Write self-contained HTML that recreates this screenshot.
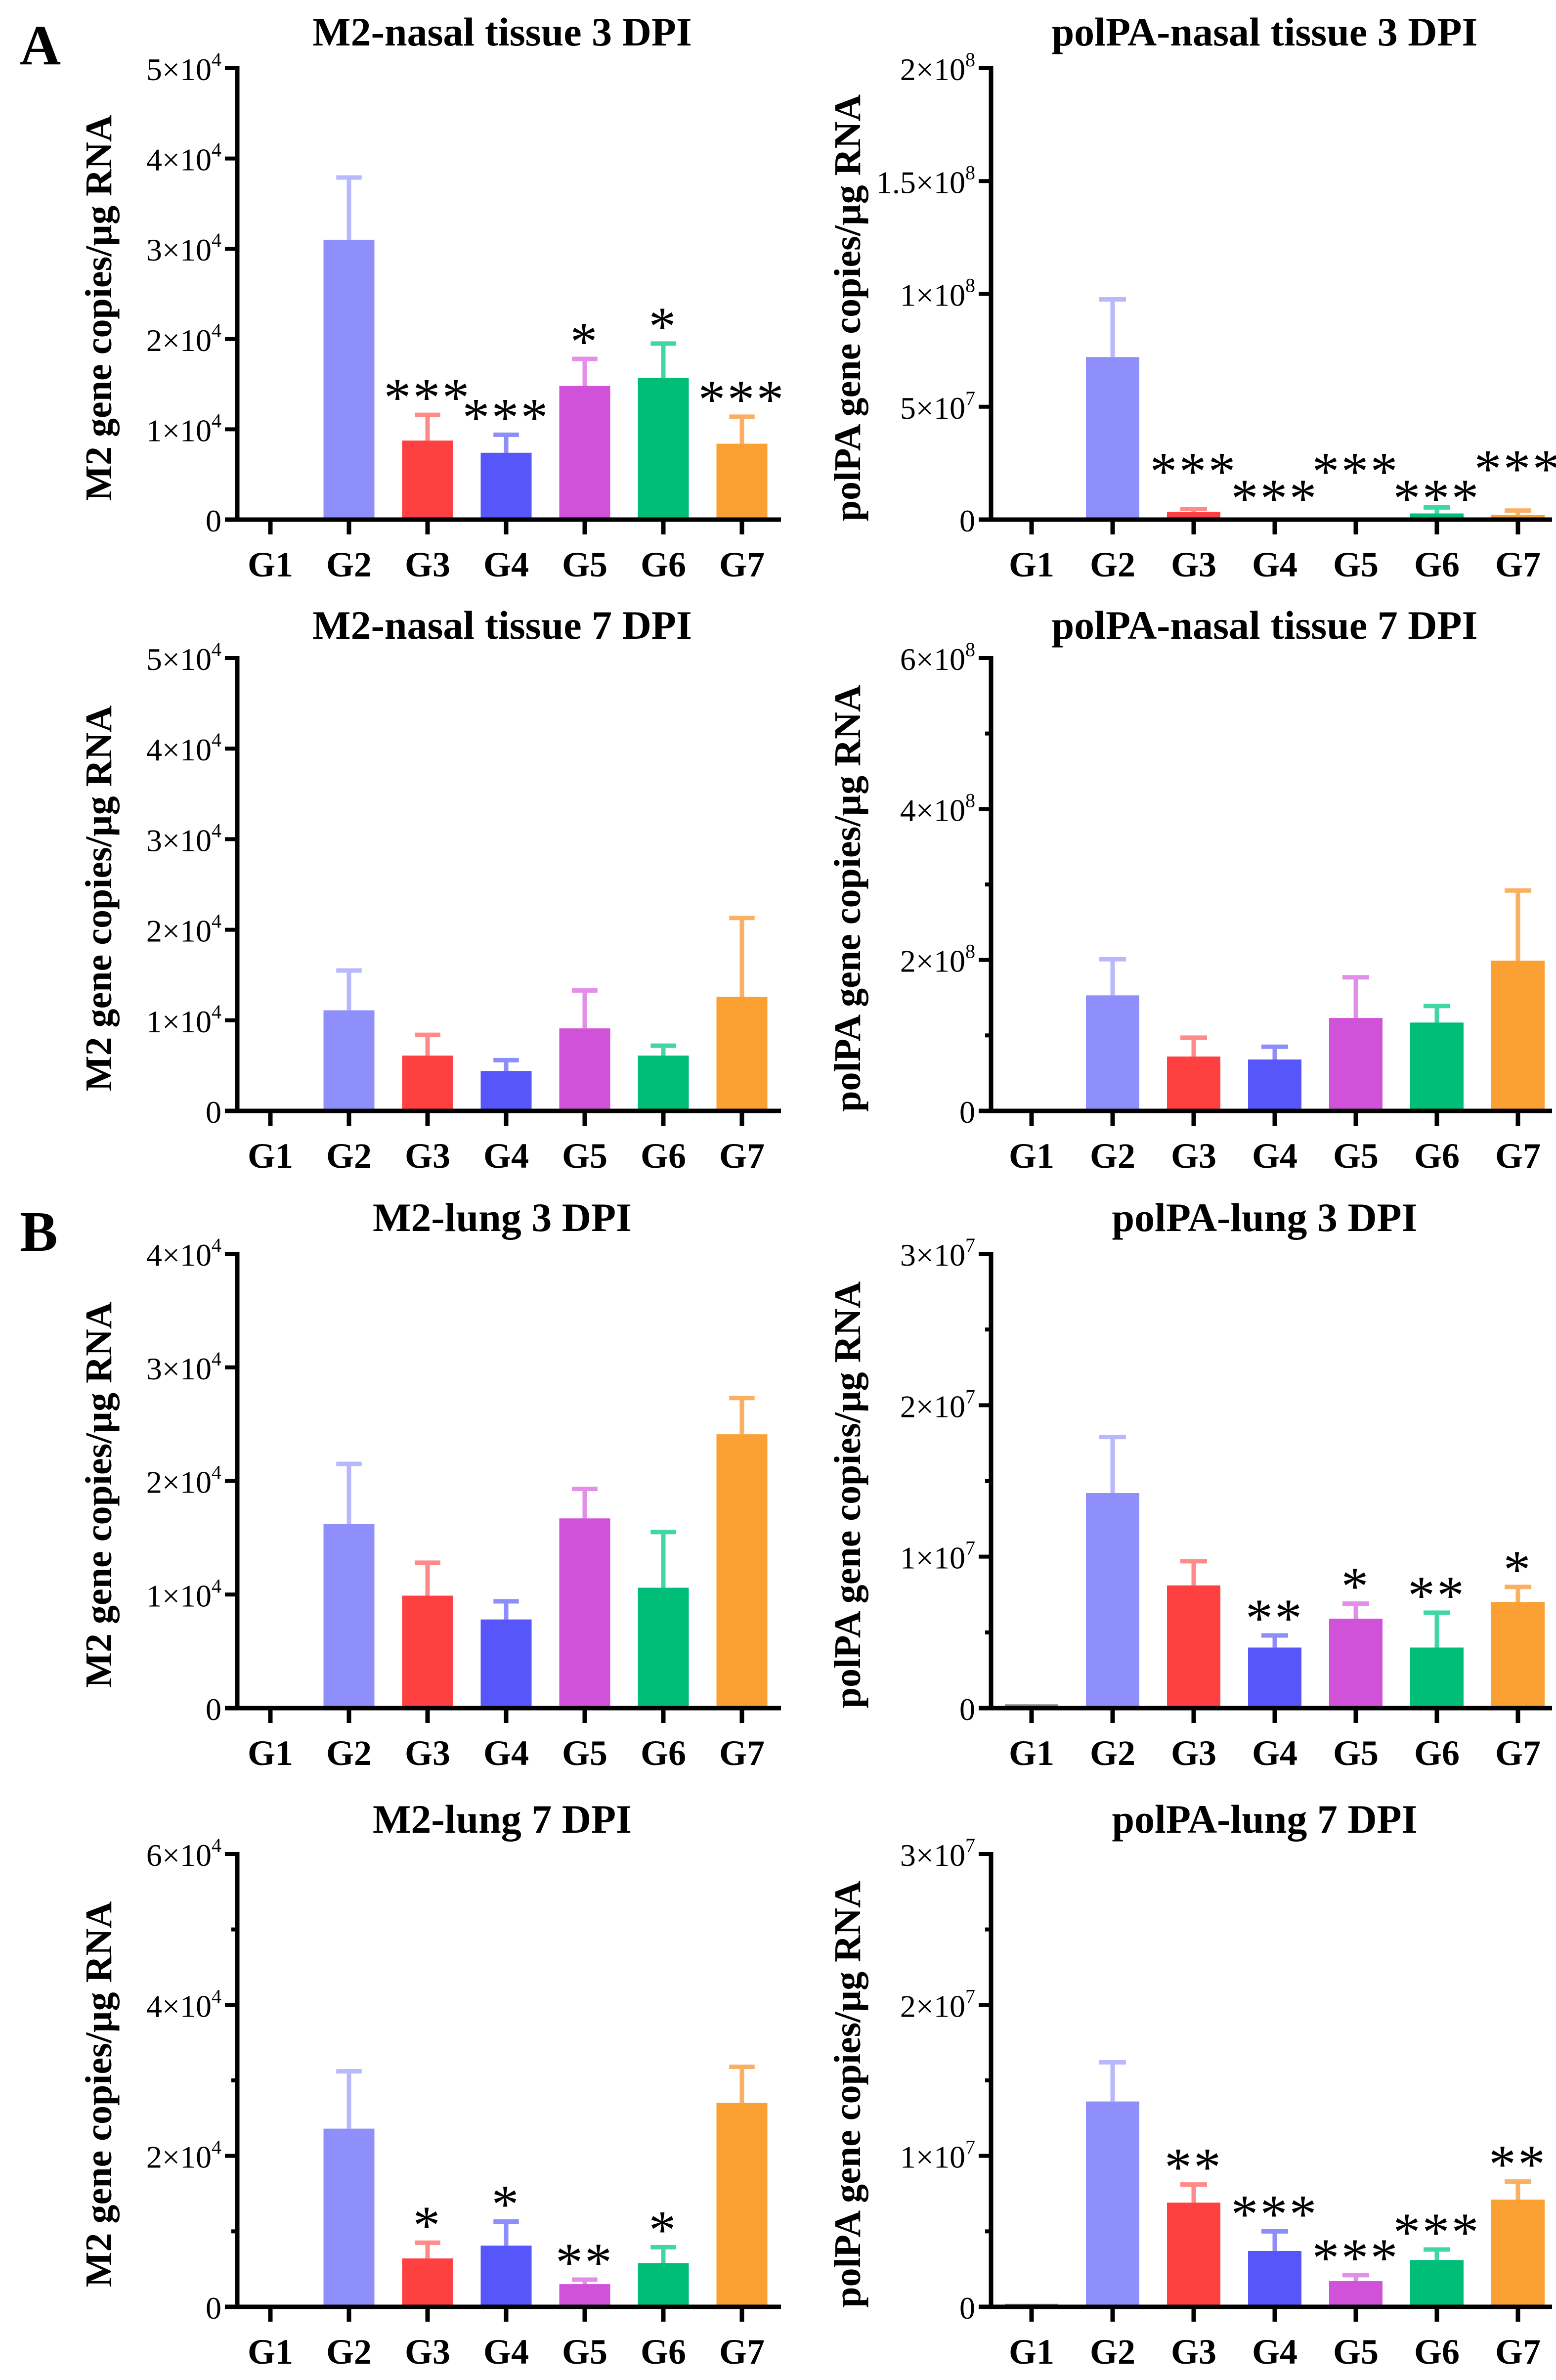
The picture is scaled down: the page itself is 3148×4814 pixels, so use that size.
<!DOCTYPE html>
<html><head><meta charset="utf-8"><style>
html,body{margin:0;padding:0;background:#fff;}
svg{display:block;}
text{font-family:"Liberation Serif",serif;fill:#000;}
</style></head><body>
<svg id="fig" width="3148" height="4814" viewBox="0 0 3148 4814" xmlns="http://www.w3.org/2000/svg">
<text x="40" y="130" font-size="115" font-weight="bold">A</text>
<text x="40" y="2530" font-size="115" font-weight="bold">B</text>
</svg>
<script>
const categories = ["G1","G2","G3","G4","G5","G6","G7"];
const colors = ["#888888","#8f8ffc","#ff4040","#5656fa","#d052d8","#00be78","#fba032"];
const errColors = ["#aaaaaa","#b8b8fd","#ff8a8a","#8d8dfb","#e38ee8","#40d6a8","#f9b062"];

const m2Nasal3Values = [0, 3.1, 0.875, 0.74, 1.48, 1.57, 0.84];
const m2Nasal3Errors = [0, 3.79, 1.16, 0.94, 1.78, 1.95, 1.14];
const m2Nasal3Stars = ["", "", "***", "***", "*", "*", "***"];

const paNasal3Values = [0, 0.72, 0.034, 0.005, 0.005, 0.027, 0.02];
const paNasal3Errors = [0, 0.976, 0.047, 0.006, 0.01, 0.054, 0.04];
const paNasal3Stars = ["", "", "***", "***", "***", "***", "***"];
const paNasal3StarLevels = [0, 0, 0.26, 0.14, 0.26, 0.14, 0.27];

const m2Nasal7Values = [0, 1.11, 0.61, 0.44, 0.91, 0.61, 1.26];
const m2Nasal7Errors = [0, 1.55, 0.84, 0.56, 1.33, 0.72, 2.13];

const paNasal7Values = [0, 1.53, 0.72, 0.68, 1.23, 1.17, 1.99];
const paNasal7Errors = [0, 2.01, 0.97, 0.85, 1.77, 1.39, 2.92];

const m2Lung3Values = [0, 1.62, 0.99, 0.78, 1.67, 1.06, 2.41];
const m2Lung3Errors = [0, 2.15, 1.28, 0.94, 1.93, 1.55, 2.73];

const paLung3Values = [0.025, 1.42, 0.81, 0.40, 0.59, 0.40, 0.70];
const paLung3Errors = [0.03, 1.79, 0.97, 0.48, 0.69, 0.63, 0.80];
const paLung3Stars = ["", "", "", "**", "*", "**", "*"];

const m2Lung7Values = [0, 2.36, 0.64, 0.81, 0.30, 0.58, 2.70];
const m2Lung7Errors = [0, 3.12, 0.85, 1.13, 0.36, 0.79, 3.18];
const m2Lung7Stars = ["", "", "*", "*", "**", "*", ""];

const paLung7Values = [0.02, 1.36, 0.69, 0.37, 0.17, 0.31, 0.71];
const paLung7Errors = [0.025, 1.62, 0.81, 0.50, 0.21, 0.38, 0.83];
const paLung7Stars = ["", "", "**", "***", "***", "***", "**"];

const ticksM2_5 = [0,1,2,3,4,5];
const ticksM2_4 = [0,1,2,3,4];
const ticksM2_6 = [0,2,4,6];
const ticksPA_2 = [0,0.5,1,1.5,2];
const ticksPA_6 = [0,2,4,6];
const ticksPA_3 = [0,1,2,3];

const NS = "http://www.w3.org/2000/svg";
const svg = document.getElementById("fig");
function mk(tag, attrs, parent){const e=document.createElementNS(NS,tag);for(const k in attrs)e.setAttribute(k,attrs[k]);(parent||svg).appendChild(e);return e;}

function tickLabel(v, expo, fmt){
  if (v === 0) return {m:"0", e:""};
  if (fmt === "pa2") {
    if (v === 2) return {m:"2×10", e:"8"};
    if (v === 1.5) return {m:"1.5×10", e:"8"};
    if (v === 1) return {m:"1×10", e:"8"};
    if (v === 0.5) return {m:"5×10", e:"7"};
  }
  return {m: v + "×10", e: String(expo)};
}

function panel(o){
  const g = mk("g", {});
  
  
  const y = v => o.zeroY - (v / o.max) * (o.zeroY - o.topY);
  const x = i => o.x0 + i * o.step;
  const t = mk("text", {x:(o.axisX + o.axisEnd)/2 - 14, y:o.titleY, "font-size":82, "font-weight":"bold", "text-anchor":"middle"}, g);
  t.textContent = o.title;
  
  
  const yt = mk("text", {x:0, y:0, "font-size":76, "font-weight":"bold", "text-anchor":"middle", transform:`translate(${o.yTitleX},${(o.topY+o.zeroY)/2 + 28}) rotate(-90)`}, g);
  yt.textContent = o.ytitle;
  
  
  categories.forEach((c, i) => {
    const v = o.values[i], e = o.errors[i];
    const bx = x(i) - o.barW/2;
    if (v > 0) {
      const r = mk("rect", {x:bx, y:y(v), width:o.barW, height:o.zeroY - y(v), fill:colors[i]}, g);
      
      
    }
    if (e > v && y(v) - y(e) > 3) {
      const l = mk("line", {x1:x(i), x2:x(i), y1:y(v), y2:y(e), stroke:errColors[i], "stroke-width":9}, g);
      
      
      const cap = mk("line", {x1:x(i)-o.barW/4, x2:x(i)+o.barW/4, y1:y(e), y2:y(e), stroke:errColors[i], "stroke-width":9}, g);
      
      
    }
    if (v > 0) {
      mk("line", {x1:bx, x2:bx+o.barW, y1:y(v)+3, y2:y(v)+3, stroke:colors[i], "stroke-width":6}, g);
    }
    if (o.stars && o.stars[i]) {
      const sy = o.starLevels ? y(o.starLevels[i]) + 58 : y(e) + 2;
      const s = mk("text", {x:x(i), y:sy, "font-size":110, "text-anchor":"middle", "letter-spacing":"4"}, g);
      s.textContent = o.stars[i];
      
      
    }
    mk("line", {x1:x(i), x2:x(i), y1:o.zeroY, y2:o.zeroY+30, stroke:"#000", "stroke-width":9}, g);
    const xl = mk("text", {x:x(i), y:o.zeroY + 115, "font-size":72, "font-weight":"bold", "text-anchor":"middle"}, g);
    xl.textContent = c;
    
    
  });
  const ax = mk("line", {x1:o.axisX, x2:o.axisX, y1:o.topY-4, y2:o.zeroY+4, stroke:"#000", "stroke-width":9}, g);
  
  
  const xa = mk("line", {x1:o.axisX-25, x2:o.axisEnd, y1:o.zeroY, y2:o.zeroY, stroke:"#000", "stroke-width":9}, g);
  
  
  o.ticks.forEach(v => {
    mk("line", {x1:o.axisX-25, x2:o.axisX, y1:y(v), y2:y(v), stroke:"#000", "stroke-width":8}, g);
    const lb = tickLabel(v, o.expo, o.fmt);
    const tt = mk("text", {x:o.axisX - 32, y:y(v) + 24, "font-size":64, "text-anchor":"end"}, g);
    
    
    const a = mk("tspan", {}, tt); a.textContent = lb.m;
    if (lb.e) { const b = mk("tspan", {"font-size":40, dy:-28}, tt); b.textContent = lb.e; }
  });
  if (o.minor) {
    for (let i = 0; i < o.ticks.length - 1; i++) {
      const mv = (o.ticks[i] + o.ticks[i+1]) / 2;
      mk("line", {x1:o.axisX-12, x2:o.axisX, y1:y(mv), y2:y(mv), stroke:"#000", "stroke-width":8}, g);
    }
  }
}

const L = {axisX:480, x0:547, step:159, barW:103, axisEnd:1580, yTitleX:225};
const R = {axisX:2005, x0:2087, step:164, barW:108, axisEnd:3140, yTitleX:1740};
const rows = [{top:138, zero:1051, title:92}, {top:1331, zero:2247, title:1292},
              {top:2536, zero:3455, title:2490}, {top:3750, zero:4666, title:3707}];

panel(Object.assign({}, L, {name:"chart-m2-nasal-3dpi", title:"M2-nasal tissue 3 DPI", ytitle:"M2 gene copies/µg RNA", topY:rows[0].top, zeroY:rows[0].zero, titleY:rows[0].title, max:5, ticks:ticksM2_5, expo:4, values:m2Nasal3Values, errors:m2Nasal3Errors, stars:m2Nasal3Stars}));
panel(Object.assign({}, R, {name:"chart-polpa-nasal-3dpi", title:"polPA-nasal tissue 3 DPI", ytitle:"polPA gene copies/µg RNA", topY:rows[0].top, zeroY:rows[0].zero, titleY:rows[0].title, max:2, ticks:ticksPA_2, expo:8, fmt:"pa2", values:paNasal3Values, errors:paNasal3Errors, stars:paNasal3Stars, starLevels:paNasal3StarLevels}));
panel(Object.assign({}, L, {name:"chart-m2-nasal-7dpi", title:"M2-nasal tissue 7 DPI", ytitle:"M2 gene copies/µg RNA", topY:rows[1].top, zeroY:rows[1].zero, titleY:rows[1].title, max:5, ticks:ticksM2_5, expo:4, values:m2Nasal7Values, errors:m2Nasal7Errors}));
panel(Object.assign({}, R, {name:"chart-polpa-nasal-7dpi", title:"polPA-nasal tissue 7 DPI", ytitle:"polPA gene copies/µg RNA", topY:rows[1].top, zeroY:rows[1].zero, titleY:rows[1].title, max:6, ticks:ticksPA_6, expo:8, minor:true, values:paNasal7Values, errors:paNasal7Errors}));
panel(Object.assign({}, L, {name:"chart-m2-lung-3dpi", title:"M2-lung 3 DPI", ytitle:"M2 gene copies/µg RNA", topY:rows[2].top, zeroY:rows[2].zero, titleY:rows[2].title, max:4, ticks:ticksM2_4, expo:4, values:m2Lung3Values, errors:m2Lung3Errors}));
panel(Object.assign({}, R, {name:"chart-polpa-lung-3dpi", title:"polPA-lung 3 DPI", ytitle:"polPA gene copies/µg RNA", topY:rows[2].top, zeroY:rows[2].zero, titleY:rows[2].title, max:3, ticks:ticksPA_3, expo:7, minor:true, values:paLung3Values, errors:paLung3Errors, stars:paLung3Stars}));
panel(Object.assign({}, L, {name:"chart-m2-lung-7dpi", title:"M2-lung 7 DPI", ytitle:"M2 gene copies/µg RNA", topY:rows[3].top, zeroY:rows[3].zero, titleY:rows[3].title, max:6, ticks:ticksM2_6, expo:4, minor:true, values:m2Lung7Values, errors:m2Lung7Errors, stars:m2Lung7Stars}));
panel(Object.assign({}, R, {name:"chart-polpa-lung-7dpi", title:"polPA-lung 7 DPI", ytitle:"polPA gene copies/µg RNA", topY:rows[3].top, zeroY:rows[3].zero, titleY:rows[3].title, max:3, ticks:ticksPA_3, expo:7, minor:true, values:paLung7Values, errors:paLung7Errors, stars:paLung7Stars}));
</script>
</body></html>
